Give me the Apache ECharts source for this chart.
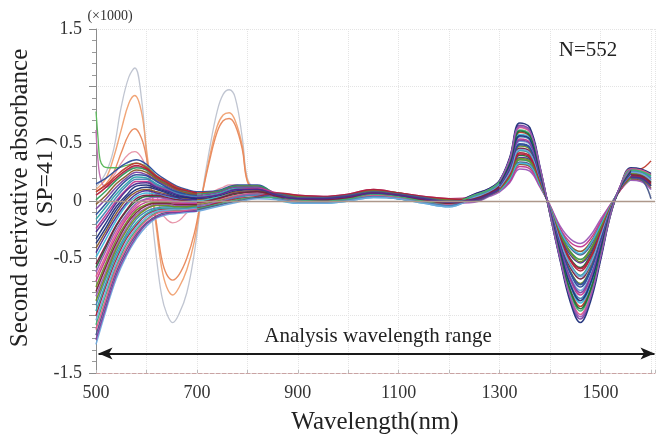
<!DOCTYPE html>
<html>
<head>
<meta charset="utf-8">
<script src="https://cdn.jsdelivr.net/npm/echarts@6/dist/echarts.min.js"></script>
<style>
  html, body { margin: 0; padding: 0; background: #fff; }
  #chart { width: 658px; height: 439px; }
</style>
</head>
<body>
<div id="chart"></div>
<script>
// ---------- axis / text ----------
const xTickLabels = [500, 700, 900, 1100, 1300, 1500];
const yTickLabels = [1.5, 0.5, 0, -0.5, -1.5];
const xTitle = 'Wavelength(nm)';
const yTitle1 = 'Second derivative absorbance';
const yTitle2 = '(\u2009SP=41\u2009)';
const unitText = '(×1000)';
const nText = 'N=552';
const rangeText = 'Analysis wavelength range';
const rangeArrowY = -1.33;
const rangeArrowFrom = 505;
const rangeArrowTo = 1607;

// ---------- wavelengths ----------
const W = [500,520,540,560,580,600,620,640,660,680,700,740,780,820,
           860,900,950,1000,1050,1100,1150,1200,
           1250,1280,1300,1320,1340,1360,1380,1400,1420,1440,1460,1480,1500,1520,1540,1560,1580,1600];
const W_LEFT = [500,520,540,560,580,600,620,640,660,680,700];
const W_RIGHT = [1300,1320,1340,1360,1380,1400,1420,1440,1460,1480,1500,1520,1540,1560];
const W_OUT = [500,520,535,550,565,577,590,600,610,620,630,640,652,665,680,695,710,725,740,752,764,776,790,800,815,830,
               860,900,950,1000,1050,1100,1150,1200,
               1250,1280,1300,1320,1340,1360,1380,1400,1420,1440,1460,1480,1500,1520,1540,1560,1580,1600];
const W_GREEN = [500,504,508,515,525,540,560,580,600,620,640,660,680,700];
const W_MAG = [500,504,510,520,540,560,580,600,620,640,660,680,700];

// ---------- full spectra ----------
const spec01 = [0.15,0.20,0.27,0.33,0.36,0.32,0.24,0.18,0.13,0.10,0.08,0.09,0.14,0.14, 0.05,0.02,0.02,0.04,0.07,0.05,0.02,-0.01, 0.03,0.08,0.14,0.28,0.50,0.47,0.22,-0.08,-0.39,-0.63,-0.75,-0.62,-0.36,-0.08,0.12,0.24,0.23,0.18];
const spec02 = [0.08,0.14,0.22,0.29,0.33,0.29,0.22,0.17,0.12,0.09,0.07,0.08,0.13,0.13, 0.02,0.00,-0.01,0.01,0.05,0.03,-0.01,-0.03, 0.05,0.10,0.16,0.34,0.60,0.56,0.26,-0.10,-0.46,-0.77,-0.92,-0.76,-0.45,-0.10,0.13,0.27,0.28,0.35];
const spec03 = [0.01,0.09,0.18,0.25,0.29,0.27,0.20,0.15,0.11,0.08,0.06,0.08,0.13,0.13, 0.06,0.04,0.03,0.05,0.09,0.07,0.03,0.01, 0.00,0.05,0.10,0.20,0.36,0.34,0.16,-0.06,-0.28,-0.44,-0.51,-0.42,-0.23,-0.05,0.11,0.20,0.19,0.13];
const spec04 = [-0.07,0.02,0.12,0.20,0.25,0.23,0.18,0.13,0.09,0.07,0.05,0.07,0.12,0.12, 0.04,0.02,0.01,0.03,0.07,0.05,0.01,-0.02, 0.06,0.11,0.18,0.37,0.66,0.62,0.29,-0.12,-0.51,-0.85,-1.03,-0.85,-0.50,-0.12,0.14,0.28,0.27,0.23];
const spec05 = [-0.16,-0.05,0.06,0.15,0.21,0.20,0.15,0.11,0.08,0.06,0.04,0.06,0.11,0.11, 0.02,-0.01,-0.01,0.01,0.04,0.02,-0.01,-0.04, 0.02,0.07,0.12,0.25,0.44,0.41,0.19,-0.07,-0.34,-0.55,-0.65,-0.53,-0.30,-0.07,0.12,0.22,0.21,0.16];
const spec06 = [-0.24,-0.12,0.00,0.10,0.17,0.17,0.13,0.10,0.06,0.04,0.03,0.05,0.10,0.11, 0.07,0.05,0.04,0.06,0.10,0.07,0.04,0.02, 0.04,0.09,0.15,0.30,0.54,0.51,0.24,-0.09,-0.42,-0.69,-0.82,-0.68,-0.39,-0.09,0.13,0.25,0.24,0.19];
const spec07 = [-0.33,-0.19,-0.05,0.05,0.13,0.14,0.11,0.08,0.05,0.03,0.02,0.04,0.09,0.10, 0.03,0.01,0.00,0.02,0.06,0.04,0.00,-0.02, 0.06,0.11,0.18,0.38,0.68,0.64,0.30,-0.12,-0.52,-0.88,-1.06,-0.88,-0.52,-0.12,0.14,0.29,0.28,0.24];
const spec08 = [-0.41,-0.26,-0.11,0.01,0.08,0.10,0.08,0.06,0.03,0.02,0.01,0.03,0.08,0.09, 0.06,0.03,0.03,0.05,0.08,0.06,0.03,0.00, 0.00,0.05,0.09,0.18,0.32,0.30,0.14,-0.05,-0.25,-0.39,-0.44,-0.36,-0.20,-0.04,0.10,0.19,0.18,0.11];
const spec09 = [-0.49,-0.33,-0.17,-0.04,0.04,0.07,0.06,0.04,0.02,0.01,0.00,0.03,0.07,0.08, 0.01,-0.02,-0.02,0.00,0.03,0.02,-0.02,-0.05, 0.04,0.09,0.16,0.33,0.58,0.55,0.26,-0.10,-0.45,-0.74,-0.89,-0.74,-0.43,-0.10,0.13,0.26,0.25,0.21];
const spec10 = [-0.58,-0.40,-0.22,-0.09,0.00,0.04,0.04,0.02,0.01,0.00,-0.01,0.02,0.06,0.08, 0.05,0.02,0.02,0.04,0.07,0.05,0.02,-0.01, 0.01,0.06,0.11,0.23,0.40,0.37,0.17,-0.06,-0.31,-0.50,-0.58,-0.47,-0.27,-0.06,0.11,0.21,0.20,0.14];
const spec11 = [-0.66,-0.47,-0.28,-0.14,-0.04,0.01,0.01,0.01,-0.01,-0.02,-0.02,0.01,0.05,0.07, 0.02,0.00,-0.01,0.01,0.05,0.03,-0.01,-0.03, 0.05,0.10,0.17,0.36,0.64,0.60,0.28,-0.11,-0.49,-0.83,-0.99,-0.82,-0.48,-0.11,0.14,0.28,0.27,0.23];
const spec12 = [-0.75,-0.54,-0.34,-0.19,-0.08,-0.03,-0.01,-0.01,-0.02,-0.03,-0.03,0.00,0.04,0.06, 0.06,0.04,0.03,0.05,0.09,0.07,0.03,0.01, 0.03,0.08,0.13,0.27,0.48,0.45,0.21,-0.08,-0.37,-0.61,-0.72,-0.59,-0.34,-0.08,0.12,0.24,0.23,0.17];
const spec13 = [-0.83,-0.61,-0.40,-0.24,-0.12,-0.06,-0.03,-0.03,-0.04,-0.04,-0.04,-0.01,0.04,0.06, 0.04,0.02,0.01,0.03,0.07,0.05,0.01,-0.02, -0.01,0.04,0.08,0.16,0.28,0.26,0.12,-0.04,-0.22,-0.33,-0.37,-0.30,-0.16,-0.03,0.10,0.18,0.17,0.10];
const spec14 = [-0.91,-0.67,-0.45,-0.29,-0.16,-0.09,-0.06,-0.05,-0.05,-0.05,-0.05,-0.02,0.03,0.05, 0.02,-0.01,-0.01,0.01,0.04,0.02,-0.01,-0.04, 0.04,0.09,0.15,0.31,0.56,0.53,0.25,-0.10,-0.43,-0.72,-0.85,-0.71,-0.41,-0.09,0.13,0.26,0.25,0.20];
const spec15 = [-1.00,-0.74,-0.51,-0.33,-0.21,-0.12,-0.08,-0.07,-0.07,-0.06,-0.06,-0.02,0.02,0.04, 0.07,0.05,0.04,0.06,0.10,0.07,0.04,0.02, 0.01,0.06,0.12,0.24,0.42,0.39,0.18,-0.07,-0.33,-0.52,-0.61,-0.50,-0.29,-0.06,0.11,0.22,0.21,0.15];
const spec16 = [-1.08,-0.81,-0.57,-0.38,-0.25,-0.16,-0.10,-0.08,-0.08,-0.08,-0.07,-0.03,0.01,0.03, 0.03,0.01,0.00,0.02,0.06,0.04,0.00,-0.02, 0.05,0.10,0.17,0.35,0.62,0.58,0.27,-0.11,-0.48,-0.80,-0.96,-0.79,-0.47,-0.11,0.13,0.27,0.26,0.22];
const spec17 = [-1.17,-0.88,-0.62,-0.43,-0.29,-0.19,-0.13,-0.10,-0.10,-0.09,-0.08,-0.04,0.00,0.03, 0.06,0.03,0.03,0.05,0.08,0.06,0.03,0.00, 0.00,0.05,0.10,0.19,0.34,0.32,0.15,-0.05,-0.27,-0.41,-0.47,-0.39,-0.21,-0.04,0.11,0.20,0.19,0.02];
const spec18 = [-1.25,-0.95,-0.68,-0.48,-0.33,-0.22,-0.15,-0.12,-0.11,-0.10,-0.09,-0.05,-0.01,0.02, 0.01,-0.02,-0.02,0.00,0.03,0.02,-0.02,-0.05, 0.03,0.08,0.14,0.29,0.52,0.49,0.23,-0.09,-0.40,-0.66,-0.78,-0.65,-0.38,-0.08,0.12,0.25,0.24,0.18];
const spec19 = [-0.55,-0.38,-0.21,-0.08,0.02,0.05,0.05,0.03,0.01,0.00,-0.01,0.02,0.07,0.08, 0.04,0.02,0.01,0.03,0.07,0.05,0.01,-0.02, 0.02,0.07,0.13,0.26,0.46,0.43,0.20,-0.08,-0.36,-0.58,-0.68,-0.56,-0.32,-0.07,0.12,0.23,0.22,0.16];
const spec20 = [-0.27,-0.15,-0.02,0.09,0.15,0.16,0.12,0.09,0.06,0.04,0.03,0.05,0.10,0.10, 0.05,0.02,0.02,0.04,0.07,0.05,0.02,-0.01, 0.01,0.06,0.11,0.22,0.38,0.36,0.17,-0.06,-0.30,-0.47,-0.54,-0.45,-0.25,-0.05,0.11,0.21,0.20,0.13];

// ---------- left-part spectra (500–700 nm) ----------
const left01 = [-1.21,-0.92,-0.65,-0.46,-0.31,-0.20,-0.14,-0.11,-0.10,-0.09,-0.09];
const left02 = [-1.12,-0.85,-0.59,-0.41,-0.27,-0.17,-0.11,-0.09,-0.09,-0.08,-0.07];
const left03 = [-1.04,-0.78,-0.54,-0.36,-0.23,-0.14,-0.09,-0.08,-0.07,-0.07,-0.06];
const left04 = [-0.96,-0.71,-0.48,-0.31,-0.19,-0.11,-0.07,-0.06,-0.06,-0.06,-0.05];
const left05 = [-0.87,-0.64,-0.42,-0.26,-0.14,-0.07,-0.04,-0.04,-0.05,-0.05,-0.04];
const left06 = [-0.79,-0.57,-0.37,-0.21,-0.10,-0.04,-0.02,-0.02,-0.03,-0.03,-0.03];
const left07 = [-0.70,-0.50,-0.31,-0.16,-0.06,-0.01,0.00,0.00,-0.02,-0.02,-0.02];
const left08 = [-0.62,-0.43,-0.25,-0.12,-0.02,0.02,0.03,0.02,0.00,-0.01,-0.01];
const left09 = [-0.45,-0.29,-0.14,-0.02,0.06,0.09,0.07,0.05,0.03,0.01,0.01];
const left10 = [-0.37,-0.23,-0.08,0.03,0.10,0.12,0.10,0.07,0.04,0.03,0.02];
const left11 = [-0.20,-0.09,0.03,0.13,0.19,0.19,0.14,0.11,0.07,0.05,0.04];
const left12 = [-0.12,-0.02,0.09,0.18,0.23,0.22,0.17,0.12,0.08,0.06,0.05];
const left13 = [-0.03,0.05,0.15,0.22,0.27,0.25,0.19,0.14,0.10,0.07,0.06];
const left14 = [0.05,0.12,0.20,0.27,0.31,0.28,0.21,0.16,0.11,0.09,0.07];

// ---------- right-part spectra (1300–1560 nm) ----------
const right01 = [0.09,0.17,0.30,0.28,0.13,-0.04,-0.24,-0.36,-0.40,-0.33,-0.18,-0.03,0.10,0.19];
const right02 = [0.09,0.19,0.33,0.31,0.14,-0.05,-0.26,-0.40,-0.46,-0.37,-0.21,-0.04,0.11,0.19];
const right03 = [0.10,0.21,0.37,0.35,0.16,-0.06,-0.29,-0.45,-0.53,-0.43,-0.24,-0.05,0.11,0.20];
const right04 = [0.11,0.23,0.41,0.38,0.18,-0.07,-0.32,-0.51,-0.59,-0.49,-0.28,-0.06,0.11,0.22];
const right05 = [0.12,0.25,0.45,0.42,0.20,-0.07,-0.35,-0.56,-0.66,-0.55,-0.31,-0.07,0.12,0.23];
const right06 = [0.13,0.28,0.49,0.46,0.21,-0.08,-0.38,-0.62,-0.73,-0.60,-0.35,-0.08,0.12,0.24];
const right07 = [0.14,0.30,0.53,0.50,0.23,-0.09,-0.41,-0.67,-0.80,-0.66,-0.39,-0.09,0.13,0.25];
const right08 = [0.15,0.32,0.57,0.54,0.25,-0.10,-0.44,-0.73,-0.87,-0.72,-0.42,-0.10,0.13,0.26];
const right09 = [0.16,0.34,0.61,0.57,0.27,-0.11,-0.47,-0.78,-0.94,-0.78,-0.46,-0.10,0.13,0.27];
const right10 = [0.17,0.36,0.65,0.61,0.29,-0.11,-0.50,-0.84,-1.01,-0.84,-0.49,-0.11,0.14,0.28];

// ---------- outlying spectra ----------
const outGray = [0.12,0.25,0.45,0.82,1.08,1.16,0.90,0.40,-0.10,-0.50,-0.82,-0.98,-1.06,-0.98,-0.80,-0.45,0.05,0.45,0.78,0.93,0.97,0.90,0.55,0.20,0.10,0.08,
                 0.04,0.02,0.01,0.03,0.07,0.05,0.01,-0.02,
                 0.02,0.07,0.13,0.26,0.46,0.43,0.20,-0.08,-0.36,-0.58,-0.68,-0.56,-0.32,-0.07,0.12,0.23,0.22,0.16];
const outOrangeA = [0.10,0.20,0.38,0.62,0.85,0.92,0.78,0.45,0.10,-0.25,-0.58,-0.75,-0.82,-0.75,-0.60,-0.35,0.05,0.38,0.65,0.75,0.77,0.70,0.48,0.18,0.10,0.09,
                    0.06,0.04,0.03,0.05,0.09,0.07,0.03,0.01,
                    0.00,0.05,0.10,0.20,0.36,0.34,0.16,-0.06,-0.28,-0.44,-0.51,-0.42,-0.23,-0.05,0.11,0.20,0.19,0.13];
const outOrangeB = [0.08,0.15,0.25,0.42,0.58,0.63,0.55,0.38,0.10,-0.20,-0.50,-0.64,-0.69,-0.64,-0.50,-0.28,0.05,0.35,0.60,0.70,0.72,0.66,0.45,0.17,0.10,0.08,
                    0.02,-0.01,-0.01,0.01,0.04,0.02,-0.01,-0.04,
                    0.02,0.07,0.12,0.25,0.44,0.41,0.19,-0.07,-0.34,-0.55,-0.65,-0.53,-0.30,-0.07,0.12,0.22,0.21,0.16];
const outPink = [0.05,0.12,0.22,0.33,0.41,0.43,0.38,0.28,0.15,0.05,-0.10,-0.16,-0.19,-0.17,-0.10,-0.02,0.03,0.06,0.10,0.12,0.14,0.14,0.13,0.12,0.10,0.08,
                 0.06,0.03,0.03,0.05,0.08,0.06,0.03,0.00,
                 0.00,0.05,0.09,0.18,0.32,0.30,0.14,-0.05,-0.25,-0.39,-0.44,-0.36,-0.20,-0.04,0.10,0.19,0.18,0.11];
const outGreen = [0.78,0.55,0.36,0.30,0.29,0.29,0.31,0.33,0.30,0.22,0.15,0.10,0.07,0.05];
const outMagenta = [0.62,0.35,0.18,0.12,0.18,0.26,0.30,0.27,0.20,0.15,0.11,0.08,0.06];

// ---------- colours ----------
const palette = ['#2b4c9b','#c0392b','#2e9e5b','#7b3fa0','#2aa3a8','#c2378f','#1f2f7a','#8a5a2b',
                 '#3fb6d9','#1e6b3a','#e05a8a','#6b8e23','#9b59b6','#4682b4','#b0203a','#3cb371',
                 '#4a5a8a','#6fa8dc','#7a1f3d','#4b2c91'];

const fullSpectra = [spec01,spec02,spec03,spec04,spec05,spec06,spec07,spec08,spec09,spec10,
                     spec11,spec12,spec13,spec14,spec15,spec16,spec17,spec18,spec19,spec20];
const leftSpectra = [left01,left02,left03,left04,left05,left06,left07,left08,left09,left10,left11,left12,left13,left14];
const rightSpectra = [right01,right02,right03,right04,right05,right06,right07,right08,right09,right10];

function pairs(xs, ys) { return xs.map((x, i) => [x, ys[i]]); }
function lineSeries(xs, ys, color, width, z, opacity) {
  return {
    type: 'line', data: pairs(xs, ys), showSymbol: false, smooth: 0.4, silent: true,
    z: z, lineStyle: { color: color, width: width, opacity: opacity == null ? 1 : opacity },
    emphasis: { disabled: true }
  };
}

const series = [];
// zero reference line
series.push({
  type: 'line', data: [], z: 1, silent: true,
  markLine: { silent: true, symbol: ['none','none'], label: { show: false },
    lineStyle: { color: '#ad978a', width: 1.4, type: 'solid' },
    data: [{ yAxis: 0 }] }
});
// analysis range arrow
series.push({
  type: 'line', data: [], z: 5, silent: true,
  markLine: { silent: true, symbol: ['arrow','arrow'], symbolSize: [9, 14], label: { show: false },
    lineStyle: { color: '#1a1a1a', width: 2.2, type: 'solid' },
    data: [[{ coord: [rangeArrowFrom, rangeArrowY] }, { coord: [rangeArrowTo, rangeArrowY] }]] }
});
// outliers (drawn under the bundle)
series.push(lineSeries(W_OUT, outGray, '#b9bfcc', 1.3, 2, 0.9));
series.push(lineSeries(W_OUT, outOrangeA, '#f0a070', 1.4, 2, 0.95));
series.push(lineSeries(W_OUT, outOrangeB, '#e8875a', 1.4, 2, 0.95));
series.push(lineSeries(W_OUT, outPink, '#e48aa0', 1.3, 2, 0.9));
series.push(lineSeries(W_GREEN, outGreen, '#5cb85c', 1.3, 3, 1));
series.push(lineSeries(W_MAG, outMagenta, '#c06fb0', 1.3, 3, 1));
// bundle
fullSpectra.forEach((s, i) => series.push(lineSeries(W, s, palette[i % palette.length], 1.5, 3, 0.95)));
leftSpectra.forEach((s, i) => series.push(lineSeries(W_LEFT, s, palette[(i * 7 + 3) % palette.length], 1.5, 3, 0.95)));
rightSpectra.forEach((s, i) => series.push(lineSeries(W_RIGHT, s, palette[(i * 3 + 5) % palette.length], 1.5, 3, 0.95)));

const serif = "'Liberation Serif', 'DejaVu Serif', serif";

const option = {
  animation: false,
  backgroundColor: '#ffffff',
  grid: { left: 96, right: 0, top: 29, bottom: 66, containLabel: false },
  xAxis: {
    type: 'value', min: 500, max: 1608, interval: 100,
    axisLine: { show: true, onZero: false, lineStyle: { color: '#c9a3a3', width: 1, type: 'dashed' } },
    axisTick: { show: true, inside: true, length: 3, lineStyle: { color: '#bbbbbb' } },
    axisLabel: {
      margin: 11, color: '#333', fontFamily: serif, fontSize: 18,
      formatter: v => xTickLabels.indexOf(v) >= 0 ? String(v) : ''
    },
    splitLine: { show: true, lineStyle: { color: '#e4e4e4', type: 'dotted', width: 1 } }
  },
  yAxis: {
    type: 'value', min: -1.5, max: 1.5, interval: 0.5,
    axisLine: { show: true, lineStyle: { color: '#8c8c8c', width: 1 } },
    axisTick: { show: true, length: 7, lineStyle: { color: '#8c8c8c' } },
    minorTick: { show: true, splitNumber: 5, length: 4, lineStyle: { color: '#9a9a9a' } },
    axisLabel: {
      margin: 14, color: '#333', fontFamily: serif, fontSize: 18,
      formatter: v => yTickLabels.indexOf(v) >= 0 ? String(v) : ''
    },
    splitLine: { show: true, lineStyle: { color: '#e4e4e4', type: 'dotted', width: 1 } }
  },
  graphic: [
    { type: 'text', x: 110, y: 16, silent: true,
      style: { text: unitText, fontFamily: serif, fontSize: 14, fill: '#333', align: 'center', verticalAlign: 'middle' } },
    { type: 'text', x: 588, y: 50, silent: true,
      style: { text: nText, fontFamily: serif, fontSize: 21, fill: '#222', align: 'center', verticalAlign: 'middle' } },
    { type: 'text', x: 378, y: 336, silent: true, z: 10,
      style: { text: rangeText, fontFamily: serif, fontSize: 21, fill: '#222', align: 'center', verticalAlign: 'middle' } },
    { type: 'text', x: 375, y: 422, silent: true,
      style: { text: xTitle, fontFamily: serif, fontSize: 25, fill: '#222', align: 'center', verticalAlign: 'middle' } },
    { type: 'text', x: 20, y: 198, rotation: Math.PI / 2, silent: true,
      style: { text: yTitle1, fontFamily: serif, fontSize: 25, fill: '#222', align: 'center', verticalAlign: 'middle' } },
    { type: 'text', x: 46, y: 182, rotation: Math.PI / 2, silent: true,
      style: { text: yTitle2, fontFamily: serif, fontSize: 24, fill: '#222', align: 'center', verticalAlign: 'middle' } }
  ],
  series: series
};

const chart = echarts.init(document.getElementById('chart'), null, { renderer: 'canvas' });
chart.setOption(option);
</script>
</body>
</html>
